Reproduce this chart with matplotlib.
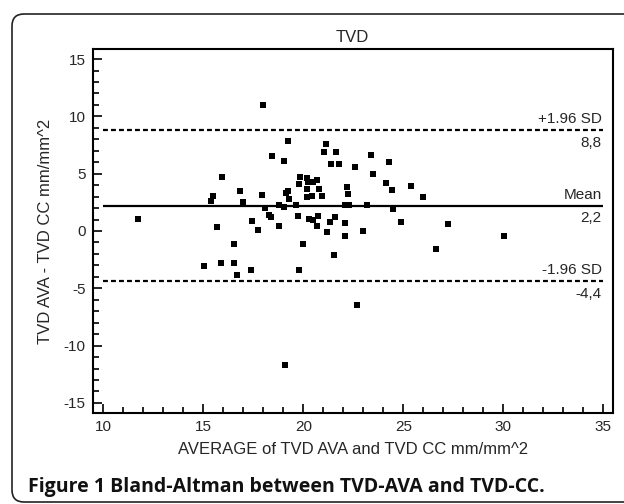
import numpy as np
import matplotlib
matplotlib.use("Agg")
import matplotlib.pyplot as plt
from matplotlib.patches import FancyBboxPatch
from matplotlib.transforms import IdentityTransform, blended_transform_factory

# Bland-Altman data: average (x) and difference (y)
avg = [11.75, 15.04, 15.39, 15.50, 15.69, 15.90, 15.95, 16.52, 16.55, 16.67,
       16.83, 16.99, 17.37, 17.45, 17.72, 17.94, 17.97, 18.07, 18.30, 18.39,
       18.44, 18.79, 18.79, 19.02, 19.05, 19.10, 19.15, 19.25, 19.25, 19.30,
       19.64, 19.74, 19.77, 19.86, 19.77, 19.99, 20.20, 20.22, 20.17, 20.42,
       20.20, 20.67, 20.50, 20.77, 20.95, 20.27, 20.50, 20.75, 20.70, 21.15,
       21.04, 21.65, 21.39, 21.77, 21.57, 21.34, 21.20, 21.54, 22.57, 22.17,
       22.25, 22.08, 22.30, 22.08, 22.10, 22.67, 23.39, 23.49, 23.20, 23.00,
       24.30, 24.12, 24.45, 24.47, 24.89, 25.37, 26.00, 26.62, 27.24, 30.04]
diff = [1.05, -3.08, 2.65, 3.03, 0.36, -2.78, 4.70, -2.78, -1.13, -3.83,
        3.52, 2.56, -3.39, 0.88, 0.06, 3.11, 11.00, 1.98, 1.37, 1.19,
        6.51, 2.24, 0.41, 6.11, 2.10, -11.65, 3.32, 7.86, 3.46, 2.82,
        2.24, 1.34, -3.37, 4.74, 4.13, -1.13, 4.63, 4.25, 3.70, 3.09,
        2.94, 4.48, 4.30, 3.67, 3.09, 1.05, 0.99, 1.34, 0.47, 7.62,
        6.92, 6.92, 5.82, 5.88, 1.26, 0.76, -0.11, -2.12, 5.59, 3.81,
        3.23, 2.24, 2.30, 0.71, -0.46, -6.45, 6.66, 4.98, 2.24, 0.03,
        6.05, 4.19, 3.61, 1.93, 0.79, 3.93, 2.94, -1.53, 0.65, -0.46]

# reference lines: value, name above the line, value text below it
ref_values = [8.8, 2.2, -4.4]
ref_names = ["+1.96 SD", "Mean", "-1.96 SD"]
ref_texts = ["8,8", "2,2", "-4,4"]
ref_dashed = [True, False, True]

plt.rcParams['font.family'] = ['Liberation Sans', 'DejaVu Sans']
plt.rcParams['axes.unicode_minus'] = False
txt_col = '#262626'

W, H = 624, 504
fig = plt.figure(figsize=(W / 100, H / 100), dpi=100)
ax = fig.add_axes([92.7 / W, 1 - 412.7 / H, 520 / W, 363.4 / H])

ax.plot(avg, diff, linestyle='none', marker='s', ms=4.6, color='black', mew=0)

tr = blended_transform_factory(ax.transAxes, ax.transData)
for val, name, t, dashed in zip(ref_values, ref_names, ref_texts, ref_dashed):
    ls = (0, (2.2, 1.4)) if dashed else '-'
    ax.hlines(val, 10, 35, colors='black', lw=1.6, linestyles=ls)
    ax.annotate(name, xy=(0.979, val), xycoords=tr, xytext=(0, 3), textcoords='offset points',
                ha='right', va='bottom', fontsize=11, color=txt_col)
    ax.annotate(t, xy=(0.979, val), xycoords=tr, xytext=(0, -4), textcoords='offset points',
                ha='right', va='top', fontsize=11, color=txt_col)

ax.set_xlim(9.47, 35.47)
ax.set_ylim(-15.85, 15.85)
ax.set_xticks(np.arange(10, 36, 5))
ax.set_xticks(np.arange(10, 36, 1), minor=True)
ax.set_yticks(np.arange(-15, 16, 5))
ax.set_yticks(np.arange(-15, 16, 1), minor=True)
ax.tick_params(which='both', direction='in', top=False, right=False, colors='black',
               labelcolor=txt_col, labelsize=11, width=1.2)
ax.tick_params(which='major', length=6.5, pad=5)
ax.tick_params(which='minor', length=4)
for s in ax.spines.values():
    s.set_linewidth(1.5)

ax.set_title("TVD", fontsize=12, color=txt_col, pad=5)
ax.set_xlabel("AVERAGE of TVD AVA and TVD CC mm/mm^2", fontsize=12, color=txt_col, labelpad=6)
ax.set_ylabel("TVD AVA - TVD CC mm/mm^2", fontsize=12, color=txt_col, labelpad=8)

# caption and rounded frame
fig.text(28 / W, 1 - 487 / H, "Figure 1 Bland-Altman between TVD-AVA and TVD-CC.",
         family=['Open Sans', 'DejaVu Sans'], fontweight='bold', fontsize=14,
         ha='left', va='center', color='#111111')
frame = FancyBboxPatch((12, 2), 700, 488, boxstyle="round,pad=0,rounding_size=12",
                       transform=IdentityTransform(), fill=False, lw=1.2, ec='#222222')
fig.add_artist(frame)

fig.savefig("out.png", dpi=100)
